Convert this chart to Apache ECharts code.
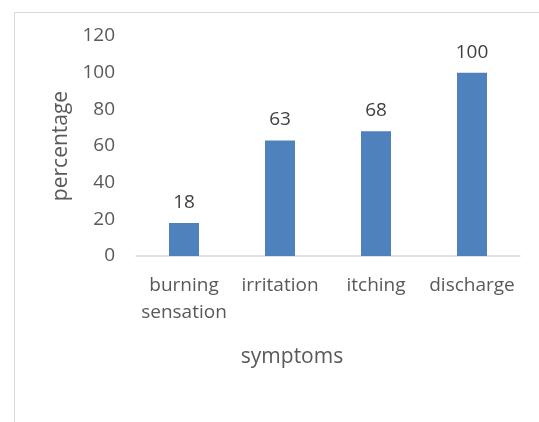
<!DOCTYPE html>
<html>
<head>
<meta charset="utf-8">
<script src="https://cdn.jsdelivr.net/npm/echarts@6/dist/echarts.min.js"></script>
<style>html,body{margin:0;padding:0;background:#fff}#c{width:539px;height:422px}</style>
</head>
<body>
<div id="c"></div>
<script>
var categories = ['burning\nsensation', 'irritation', 'itching', 'discharge'];
var values = [18, 63, 68, 100];
var yTicks = [0, 20, 40, 60, 80, 100, 120];
var xTitle = 'symptoms';
var yTitle = 'percentage';

var chart = echarts.init(document.getElementById('c'), null, {renderer: 'canvas'});
var font = '"Open Sans", "Noto Sans", sans-serif';
chart.setOption({
  animation: false,
  backgroundColor: '#ffffff',
  graphic: [{
    type: 'rect', left: 12, top: 10,
    shape: {width: 526, height: 430},
    style: {fill: 'none', stroke: '#d9d9d9', lineWidth: 1},
    silent: true
  }],
  grid: {left: 136, right: 19, top: 36, bottom: 166, containLabel: false},
  xAxis: {
    type: 'category',
    data: categories,
    axisLine: {lineStyle: {color: '#d9d9d9', width: 1.5}},
    axisTick: {show: false},
    axisLabel: {color: '#595959', fontFamily: font, fontSize: 19, lineHeight: 27, margin: 16, interval: 0},
    name: xTitle,
    nameLocation: 'middle',
    nameGap: 91,
    nameTextStyle: {color: '#595959', fontFamily: font, fontSize: 21, padding: [0, 72, 0, 0]}
  },
  yAxis: {
    type: 'value',
    min: yTicks[0],
    max: yTicks[yTicks.length - 1],
    interval: 20,
    axisLine: {show: false},
    axisTick: {show: false},
    splitLine: {show: false},
    axisLabel: {color: '#595959', fontFamily: font, fontSize: 19, margin: 21},
    name: yTitle,
    nameLocation: 'middle',
    nameGap: 64,
    nameTextStyle: {color: '#595959', fontFamily: font, fontSize: 21}
  },
  series: [{
    type: 'bar',
    data: values,
    barWidth: 30,
    itemStyle: {color: '#4f81bd'},
    label: {show: true, position: 'top', distance: 11, color: '#404040', fontFamily: font, fontSize: 19}
  }]
});
</script>
</body>
</html>
